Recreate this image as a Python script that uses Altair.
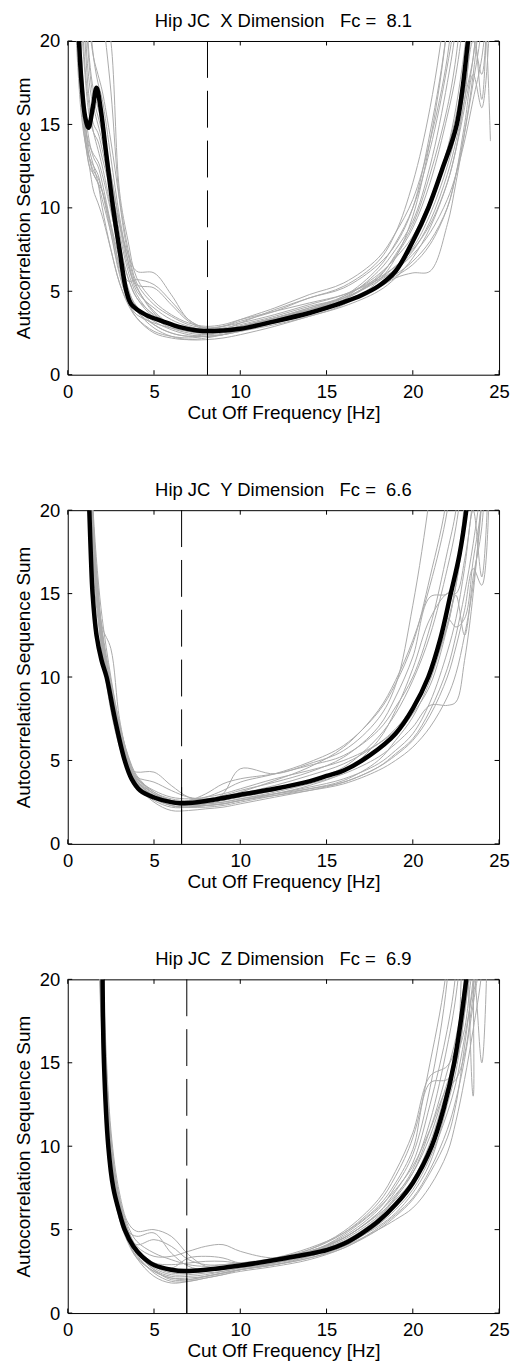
import altair as alt
import pandas as pd

# ---------------- data ----------------
FREQ = [0.5, 0.75, 1, 1.25, 1.5, 1.75, 2, 2.5, 3, 3.5, 4, 5, 6, 7, 8, 9, 10,
        12, 14, 16, 18, 19, 20, 21, 22, 22.5, 23, 23.5, 24, 24.5]

X_GRAY = [
    [21, 18, 15, 13.5, 12.5, 11.5, 10, 7.5, 5.5, 4.2, 3.4, 2.6, 2.3, 2.2, 2.3, 2.4, 2.6, 3.0, 3.5, 4.2, 5.6, 7.0, 9.5, 14, 21, 30, 30, 30, 30, 30],
    [25, 20, 16, 14, 13, 12.5, 11.5, 9, 6.5, 4.8, 3.8, 3.0, 2.5, 2.3, 2.4, 2.6, 2.9, 3.4, 3.9, 4.5, 5.8, 7.2, 9.0, 12, 16, 19, 24, 30, 30, 30],
    [30, 22, 18, 15.5, 14.5, 14, 13, 11, 9, 7.2, 6.2, 6.1, 4.8, 3.3, 2.8, 2.9, 3.2, 3.8, 4.6, 5.2, 6.6, 7.8, 10, 14.5, 21, 30, 30, 30, 30, 30],
    [40, 30, 24, 19, 17, 16, 15, 12, 9, 6.5, 5.2, 3.8, 3.0, 2.6, 2.5, 2.6, 2.9, 3.4, 4.0, 4.7, 6.0, 7.0, 8.3, 10.5, 13.5, 15.5, 18.5, 23, 30, 30],
    [50, 40, 30, 22, 19, 17.5, 16.5, 13, 9.5, 6.8, 5.0, 4.0, 3.3, 2.9, 2.7, 2.8, 3.0, 3.5, 4.1, 4.6, 5.6, 6.3, 7.4, 9.2, 12, 14, 16.5, 21, 16.5, 30],
    [35, 26, 20, 16.5, 15, 14.5, 13.5, 11, 8, 5.8, 4.6, 3.6, 3.0, 2.7, 2.6, 2.7, 2.9, 3.3, 3.8, 4.3, 5.2, 5.8, 6.1, 6.2, 9.0, 11.5, 14.5, 18, 23, 30],
    [45, 35, 26, 21, 19, 18, 17, 14, 10.5, 7.5, 5.5, 4.2, 3.5, 3.0, 2.8, 2.9, 3.1, 3.6, 4.2, 4.8, 5.8, 6.5, 7.5, 9.0, 11.5, 13.5, 16, 19, 25, 30],
    [22, 17, 14, 12.5, 11, 10.3, 9.5, 7.5, 5.5, 4.3, 3.6, 3.1, 2.8, 2.6, 2.5, 2.7, 3.1, 3.9, 4.6, 5.3, 6.8, 8.5, 11.5, 16, 23, 30, 30, 30, 30, 30],
    [30, 20, 15.5, 13, 12, 11.5, 10.5, 8.5, 6.2, 4.6, 3.8, 2.8, 2.3, 2.1, 2.1, 2.2, 2.4, 2.9, 3.5, 4.1, 5.0, 5.8, 7.0, 8.8, 11.5, 13.5, 16.5, 19, 24, 14],
    [60, 50, 42, 35, 30, 26, 23, 20, 11, 8, 5.8, 4.4, 3.6, 3.1, 2.9, 3.0, 3.3, 3.8, 4.3, 4.8, 5.7, 6.3, 7.2, 8.5, 10.5, 12, 14, 16.5, 19, 24],
    [28, 19, 14.5, 12.5, 12, 11.5, 11, 9, 7, 5.6, 5.7, 5.4, 4.4, 3.3, 2.8, 2.9, 3.3, 4.0, 4.8, 5.5, 7.0, 8.5, 10.5, 14, 19, 24, 30, 30, 30, 30],
    [20, 16, 14, 13, 12.5, 12, 11, 8.5, 6, 4.4, 3.4, 2.5, 2.2, 2.1, 2.2, 2.4, 2.7, 3.3, 3.9, 4.6, 6.2, 7.5, 9.2, 12.5, 17.5, 21, 30, 30, 30, 30],
    [38, 28, 21, 17.5, 16, 15, 14, 11.5, 8.5, 6.2, 4.8, 3.5, 2.9, 2.6, 2.5, 2.6, 2.8, 3.2, 3.7, 4.4, 5.4, 6.0, 6.8, 8.0, 10, 12, 15, 18, 16, 22],
    [32, 24, 18.5, 16, 14.5, 13.5, 12.5, 10, 7.2, 5.2, 4.0, 3.2, 2.7, 2.4, 2.3, 2.4, 2.7, 3.2, 3.8, 4.5, 5.9, 7.1, 8.8, 11.5, 15.5, 18, 22, 30, 30, 30],
    [26, 19, 15, 13.8, 13.2, 12.8, 12, 9.8, 7.5, 5.8, 4.6, 3.4, 2.8, 2.5, 2.4, 2.5, 2.8, 3.3, 3.9, 4.7, 6.4, 7.9, 10, 13.5, 18.5, 22, 30, 30, 30, 30],
    [42, 30, 23, 18.5, 16.5, 15.5, 14.5, 12, 9.2, 6.8, 5.4, 5.2, 4.2, 3.2, 2.7, 2.7, 2.9, 3.4, 4.0, 4.6, 5.7, 6.5, 7.6, 9.6, 12.5, 14.5, 17, 20, 18, 30],
    [24, 18, 14.5, 13, 12.2, 11.8, 11, 8.8, 6.5, 5.0, 4.1, 3.0, 2.5, 2.3, 2.3, 2.4, 2.6, 3.1, 3.6, 4.3, 5.4, 6.4, 7.8, 10, 13.5, 16, 19.5, 24, 30, 30],
    [55, 45, 38, 32, 28, 25, 22, 17, 10.5, 7.2, 5.3, 3.7, 3.0, 2.7, 2.6, 2.7, 2.9, 3.4, 3.9, 4.4, 5.3, 5.9, 6.6, 7.8, 10, 12, 14.5, 17.5, 21, 30],
]
X_BLACK_F = [0.65, 0.8, 1.0, 1.2, 1.45, 1.67, 1.9, 2.2, 2.63, 3.0, 3.4, 3.7, 4.5, 5.5, 6.5, 7.5, 8.5,
             10, 12, 14, 15, 16, 17, 18, 19, 20, 20.9, 21.7, 22.55, 23.2, 23.5]
X_BLACK_V = [20, 17.5, 15.5, 14.8, 16.0, 17.2, 16.0, 13.5, 10.0, 7.5, 5.0, 4.2, 3.6, 3.2, 2.85, 2.65, 2.62,
             2.75, 3.2, 3.7, 4.0, 4.35, 4.75, 5.3, 6.2, 8.0, 10.0, 12.3, 15.0, 20.0, 23]

Y_GRAY = [
    [60, 40, 30, 22, 17, 14.5, 12, 9, 6.5, 4.8, 3.8, 3.0, 2.6, 2.5, 2.6, 2.8, 3.1, 3.8, 4.6, 5.8, 8.0, 9.8, 12.2, 15.5, 20, 25, 30, 30, 30, 30],
    [60, 40, 30, 23, 18, 15.5, 13, 11.7, 7.5, 5.2, 4.0, 3.0, 2.5, 2.3, 2.3, 2.4, 2.6, 3.0, 3.5, 4.3, 6.2, 8.0, 10.5, 13.5, 15, 15, 17, 21, 30, 30],
    [60, 40, 28, 21, 16, 13.5, 11.5, 8.5, 6.0, 4.5, 4.3, 4.3, 3.5, 2.8, 2.6, 2.7, 2.9, 3.3, 3.8, 4.5, 5.6, 6.5, 7.8, 9.5, 13, 15.5, 19, 24, 30, 30],
    [60, 45, 32, 24, 18, 14, 11.5, 8.0, 5.8, 4.3, 3.4, 2.6, 2.2, 2.2, 2.4, 3.0, 4.5, 4.2, 4.8, 5.6, 7.5, 9.5, 14.3, 21, 30, 30, 30, 30, 30, 30],
    [60, 45, 33, 25, 19, 15, 12.5, 9.5, 7, 5, 3.8, 2.9, 2.5, 2.4, 2.4, 2.5, 2.7, 3.1, 3.6, 4.2, 5.2, 6.0, 7.0, 8.3, 8.3, 8.5, 11, 15, 21, 30],
    [60, 45, 32, 24, 18.5, 15, 12.5, 9.5, 6.8, 5.0, 3.8, 2.8, 2.3, 2.2, 2.3, 2.4, 2.6, 3.0, 3.4, 3.9, 4.8, 5.6, 6.6, 8.5, 11.5, 13.5, 16.5, 20, 16, 25],
    [60, 42, 31, 23, 17.5, 14, 12, 9, 6.5, 4.6, 3.5, 2.5, 2.0, 2.0, 2.1, 2.2, 2.4, 2.8, 3.2, 3.7, 4.6, 5.4, 6.3, 8.0, 10.5, 12.5, 15, 18, 22, 30],
    [60, 46, 34, 25, 19.5, 16, 13.5, 10, 7.2, 5.3, 4.1, 3.1, 2.7, 2.6, 2.8, 3.2, 3.7, 4.2, 4.9, 5.9, 7.9, 9.6, 12, 16, 21, 30, 30, 30, 30, 30],
    [60, 44, 33, 24, 18, 14.5, 12, 9, 6.6, 4.9, 3.9, 3.2, 2.8, 2.7, 2.8, 3.0, 3.3, 3.9, 4.4, 5.0, 6.0, 6.8, 8.0, 10, 13.5, 13, 13.5, 17, 20.5, 30],
    [60, 45, 33, 25, 19, 15, 12.8, 9.8, 7.2, 5.2, 4.0, 3.1, 2.6, 2.4, 2.4, 2.5, 2.7, 3.0, 3.3, 3.7, 4.6, 5.3, 6.2, 7.7, 10, 11.8, 14, 16.5, 15.5, 25],
    [60, 43, 31, 23, 17.5, 14.2, 11.8, 8.8, 6.2, 4.6, 3.7, 2.9, 2.6, 2.6, 3.0, 3.6, 3.9, 4.2, 4.7, 5.3, 6.8, 8.2, 10, 13, 17.5, 20, 25, 30, 30, 30],
    [60, 44, 32, 24, 18.5, 14.8, 12.3, 9.2, 6.7, 4.9, 3.7, 2.7, 2.3, 2.2, 2.2, 2.3, 2.5, 2.9, 3.3, 3.8, 5.0, 6.2, 7.6, 9.8, 13.2, 15.5, 19, 23, 30, 30],
    [60, 42, 30, 22.5, 17, 14, 11.8, 8.6, 6.2, 4.6, 3.6, 2.8, 2.4, 2.3, 2.4, 2.6, 2.8, 3.2, 3.8, 4.6, 6.4, 7.8, 9.8, 12.5, 16.5, 19, 23, 30, 30, 30],
    [60, 45, 33, 24.5, 18.8, 15.2, 12.6, 9.4, 6.9, 5.0, 3.9, 3.0, 2.6, 2.5, 2.5, 2.7, 3.0, 3.5, 4.1, 4.8, 6.0, 6.9, 8.2, 10.2, 13, 14.9, 12.5, 16, 19, 30],
    [60, 44, 32, 24, 18.2, 14.6, 12.2, 9.1, 6.6, 4.8, 3.8, 2.8, 2.3, 2.2, 2.3, 2.4, 2.6, 2.9, 3.2, 3.6, 4.4, 5.0, 5.8, 7.0, 8.8, 10.2, 12.5, 15.5, 20.5, 30],
    [60, 41, 30, 22, 16.8, 13.8, 11.6, 8.7, 6.3, 4.7, 4.0, 3.7, 3.2, 2.8, 2.7, 2.9, 3.2, 3.7, 4.3, 5.2, 7.0, 8.8, 11.2, 14.8, 15, 16.5, 20.5, 30, 30, 30],
]
Y_BLACK_F = [1.25, 1.35, 1.44, 1.67, 1.96, 2.25, 2.73, 3.3, 3.7, 4.2, 5, 6, 6.5, 7.5, 8.5, 10, 12, 14,
             15, 16, 17.5, 19, 20, 20.9, 21.6, 22.2, 22.7, 23.1, 23.4]
Y_BLACK_V = [20, 17, 15, 12.5, 11, 10, 7.5, 5.0, 3.9, 3.2, 2.78, 2.5, 2.44, 2.5, 2.65, 2.94, 3.3, 3.75,
             4.07, 4.4, 5.3, 6.6, 8.1, 10, 12.3, 15, 17.3, 20, 23]

Z_GRAY = [
    [90, 80, 70, 60, 45, 30, 20, 10, 6.5, 4.8, 3.8, 2.9, 2.5, 2.5, 2.6, 2.7, 2.9, 3.2, 3.7, 4.5, 6.0, 7.3, 9.0, 12.5, 17, 20.5, 30, 30, 30, 30],
    [90, 80, 70, 55, 40, 25, 17, 9, 6.0, 4.5, 3.6, 2.6, 2.2, 2.2, 2.3, 2.5, 2.7, 3.0, 3.5, 4.3, 5.5, 6.5, 7.8, 10, 13.5, 16, 20, 25, 30, 30],
    [90, 80, 70, 60, 50, 35, 22, 11, 7.2, 5.4, 4.9, 5.0, 4.6, 3.5, 2.8, 2.7, 2.8, 3.1, 3.6, 4.4, 5.8, 7.0, 8.6, 11.5, 16, 19, 24, 30, 30, 30],
    [90, 80, 70, 58, 42, 28, 18, 9.5, 6.3, 4.6, 3.5, 2.4, 1.9, 1.9, 2.1, 2.3, 2.6, 2.9, 3.4, 4.1, 5.2, 6.0, 7.2, 9.0, 12.5, 14.5, 18, 22, 30, 30],
    [90, 80, 70, 60, 48, 32, 21, 10.5, 6.8, 5.0, 4.0, 3.4, 3.4, 3.7, 4.0, 4.1, 3.7, 3.3, 3.7, 4.6, 6.2, 7.6, 9.5, 13.5, 20, 30, 30, 30, 30, 30],
    [90, 80, 70, 55, 38, 24, 16, 8.5, 5.6, 4.2, 3.3, 2.5, 2.1, 2.1, 2.2, 2.4, 2.6, 3.0, 3.6, 4.7, 6.3, 7.4, 8.8, 11, 13.5, 14, 15.5, 19, 22, 30],
    [90, 80, 70, 60, 46, 30, 19, 9.8, 6.5, 4.9, 4.6, 4.8, 3.6, 2.8, 2.6, 2.7, 2.9, 3.3, 3.9, 4.8, 6.4, 7.8, 9.8, 13.8, 14, 15, 18, 23, 30, 30],
    [90, 80, 70, 56, 40, 26, 17.5, 9.2, 6.1, 4.4, 3.3, 2.2, 1.8, 1.9, 2.1, 2.3, 2.5, 2.8, 3.2, 3.9, 5.0, 5.8, 6.8, 8.4, 10.5, 12.5, 16, 20, 25, 30],
    [90, 80, 70, 58, 44, 29, 19.5, 10.2, 6.6, 4.9, 3.9, 3.0, 2.7, 3.3, 3.4, 3.3, 3.0, 3.1, 3.6, 4.5, 5.9, 6.8, 8.0, 10.2, 13.5, 15, 25, 13, 30, 30],
    [90, 80, 70, 57, 41, 27, 18, 9.6, 6.3, 4.7, 3.7, 2.7, 2.3, 2.3, 2.4, 2.5, 2.7, 3.0, 3.4, 4.0, 5.0, 5.6, 6.3, 7.6, 9.6, 11.5, 14, 17, 20.5, 30],
    [90, 80, 70, 60, 47, 31, 20.5, 10.5, 6.9, 5.2, 4.3, 3.6, 3.2, 2.9, 2.8, 2.9, 3.0, 3.3, 3.8, 4.8, 6.6, 8.2, 10.5, 15, 21, 30, 30, 30, 30, 30],
    [90, 80, 70, 55, 39, 25, 16.5, 8.8, 5.8, 4.3, 3.4, 2.5, 2.1, 2.0, 2.2, 2.4, 2.6, 2.9, 3.3, 4.0, 5.3, 6.2, 7.4, 9.3, 12, 13.8, 16.5, 19.5, 23, 30],
    [90, 80, 70, 58, 43, 28, 18.5, 9.7, 6.4, 4.8, 3.8, 2.8, 2.4, 2.4, 2.5, 2.6, 2.8, 3.1, 3.6, 4.3, 5.7, 6.9, 8.4, 11, 14.5, 16.5, 19.5, 24, 30, 30],
    [90, 80, 70, 57, 42, 27.5, 18, 9.4, 6.2, 4.7, 4.1, 4.4, 4.0, 3.2, 2.9, 2.9, 3.0, 3.2, 3.7, 4.5, 6.0, 7.1, 8.4, 10.6, 13.8, 15.2, 17, 20.5, 15, 30],
    [90, 80, 70, 59, 45, 29.5, 19.2, 10, 6.6, 4.9, 3.8, 2.6, 2.0, 2.0, 2.2, 2.4, 2.6, 2.9, 3.3, 3.9, 5.1, 5.9, 6.9, 8.6, 11, 12.8, 15.2, 18.5, 22, 30],
    [90, 80, 70, 56, 41, 26.5, 17.2, 9.0, 5.9, 4.4, 3.6, 3.0, 2.9, 3.0, 3.1, 3.1, 3.0, 3.2, 3.8, 4.9, 6.8, 8.5, 10.8, 14.2, 14.8, 16, 19.5, 30, 30, 30],
]
Z_BLACK_F = [2.02, 2.1, 2.35, 2.64, 3.0, 3.3, 3.8, 4.3, 5, 6, 6.8, 8, 10, 12.5, 15, 16, 17, 18, 19, 20,
             21.1, 21.8, 22.4, 23.1, 23.4]
Z_BLACK_V = [20, 15, 10, 7.5, 6.0, 5.0, 4.0, 3.4, 2.88, 2.6, 2.52, 2.6, 2.85, 3.27, 3.77, 4.15, 4.75, 5.5,
             6.5, 7.8, 10, 12.3, 15, 20, 23]

FC = [8.1, 6.6, 6.9]
FC_SOLID_TOP = [3.2, 3.4, 2.9]
DIMS = ["X", "Y", "Z"]
X_TICKS = [0, 5, 10, 15, 20, 25]
Y_TICKS = [0, 5, 10, 15, 20]

# ---------------- layout ----------------
W, H = 433, 335
TICK = 4.5
FONT = "Liberation Sans"
NB = "\u00a0"


def panel(gray, bf, bv, fc, solid_top, dim):
    gray_df = pd.DataFrame(
        [{"f": f, "v": v, "run": i} for i, row in enumerate(gray) for f, v in zip(FREQ, row)]
    )
    black_df = pd.DataFrame({"f": bf, "v": bv})
    fc_df = pd.DataFrame({"f": [fc], "v": [20], "v2": [0], "vs": [solid_top]})
    xt_df = pd.DataFrame({"f": X_TICKS})
    yt_df = pd.DataFrame({"v": Y_TICKS})

    xs = alt.Scale(domain=[0, 25], nice=False, zero=False)
    ys = alt.Scale(domain=[0, 20], nice=False, zero=False)
    xax = alt.Axis(values=X_TICKS, tickSize=0, domain=False, grid=False, labelPadding=8,
                   labelFlush=False, titlePadding=2, title="Cut Off Frequency [Hz]", format="d")
    yax = alt.Axis(values=Y_TICKS, tickSize=0, domain=False, grid=False, labelPadding=8,
                   titlePadding=6, title="Autocorrelation Sequence Sum", format="d")
    X = alt.X("f:Q", scale=xs, axis=xax)
    Y = alt.Y("v:Q", scale=ys, axis=yax)

    g = alt.Chart(gray_df).mark_line(color="#ababab", strokeWidth=1, clip=True,
                                     interpolate="catmull-rom").encode(x=X, y=Y, detail="run:N")
    b = alt.Chart(black_df).mark_line(color="black", strokeWidth=4.5, clip=True,
                                      interpolate="catmull-rom").encode(x=X, y=Y)
    dashed = alt.Chart(fc_df).mark_rule(color="black", strokeWidth=1,
                                        strokeDash=[37, 13]).encode(x=X, y=Y, y2="v2:Q")
    solid = alt.Chart(fc_df).mark_rule(color="black", strokeWidth=1).encode(
        x=X, y=alt.Y("vs:Q", scale=ys, axis=yax), y2="v2:Q")
    xt_bot = alt.Chart(xt_df).mark_rule(color="black", strokeWidth=1).encode(
        x=X, y=alt.value(H), y2=alt.value(H - TICK))
    xt_top = alt.Chart(xt_df).mark_rule(color="black", strokeWidth=1).encode(
        x=X, y=alt.value(0), y2=alt.value(TICK))
    yt_left = alt.Chart(yt_df).mark_rule(color="black", strokeWidth=1).encode(
        y=Y, x=alt.value(0), x2=alt.value(TICK))
    yt_right = alt.Chart(yt_df).mark_rule(color="black", strokeWidth=1).encode(
        y=Y, x=alt.value(W), x2=alt.value(W - TICK))

    title = f"Hip JC{NB} {dim} Dimension{NB}{NB} Fc ={NB} {fc}"
    return alt.layer(g, b, dashed, solid, xt_bot, xt_top, yt_left, yt_right).properties(
        width=W, height=H,
        title=alt.TitleParams(title, fontSize=18.5, font=FONT, fontWeight="normal",
                              color="black", anchor="middle", offset=2),
    )


panels = [
    panel(X_GRAY, X_BLACK_F, X_BLACK_V, FC[0], FC_SOLID_TOP[0], DIMS[0]),
    panel(Y_GRAY, Y_BLACK_F, Y_BLACK_V, FC[1], FC_SOLID_TOP[1], DIMS[1]),
    panel(Z_GRAY, Z_BLACK_F, Z_BLACK_V, FC[2], FC_SOLID_TOP[2], DIMS[2]),
]

chart = alt.vconcat(*panels, spacing=58).properties(
    padding={"left": 13, "top": 8.5, "right": 5, "bottom": 5},
    background="white",
).configure_view(stroke="black", strokeWidth=1).configure_axis(
    labelFont=FONT, labelFontSize=18.5, labelColor="black",
    titleFont=FONT, titleFontSize=19, titleFontWeight="normal", titleColor="black",
)

chart.save("out.html", embed_options={"renderer": "svg", "actions": False})
